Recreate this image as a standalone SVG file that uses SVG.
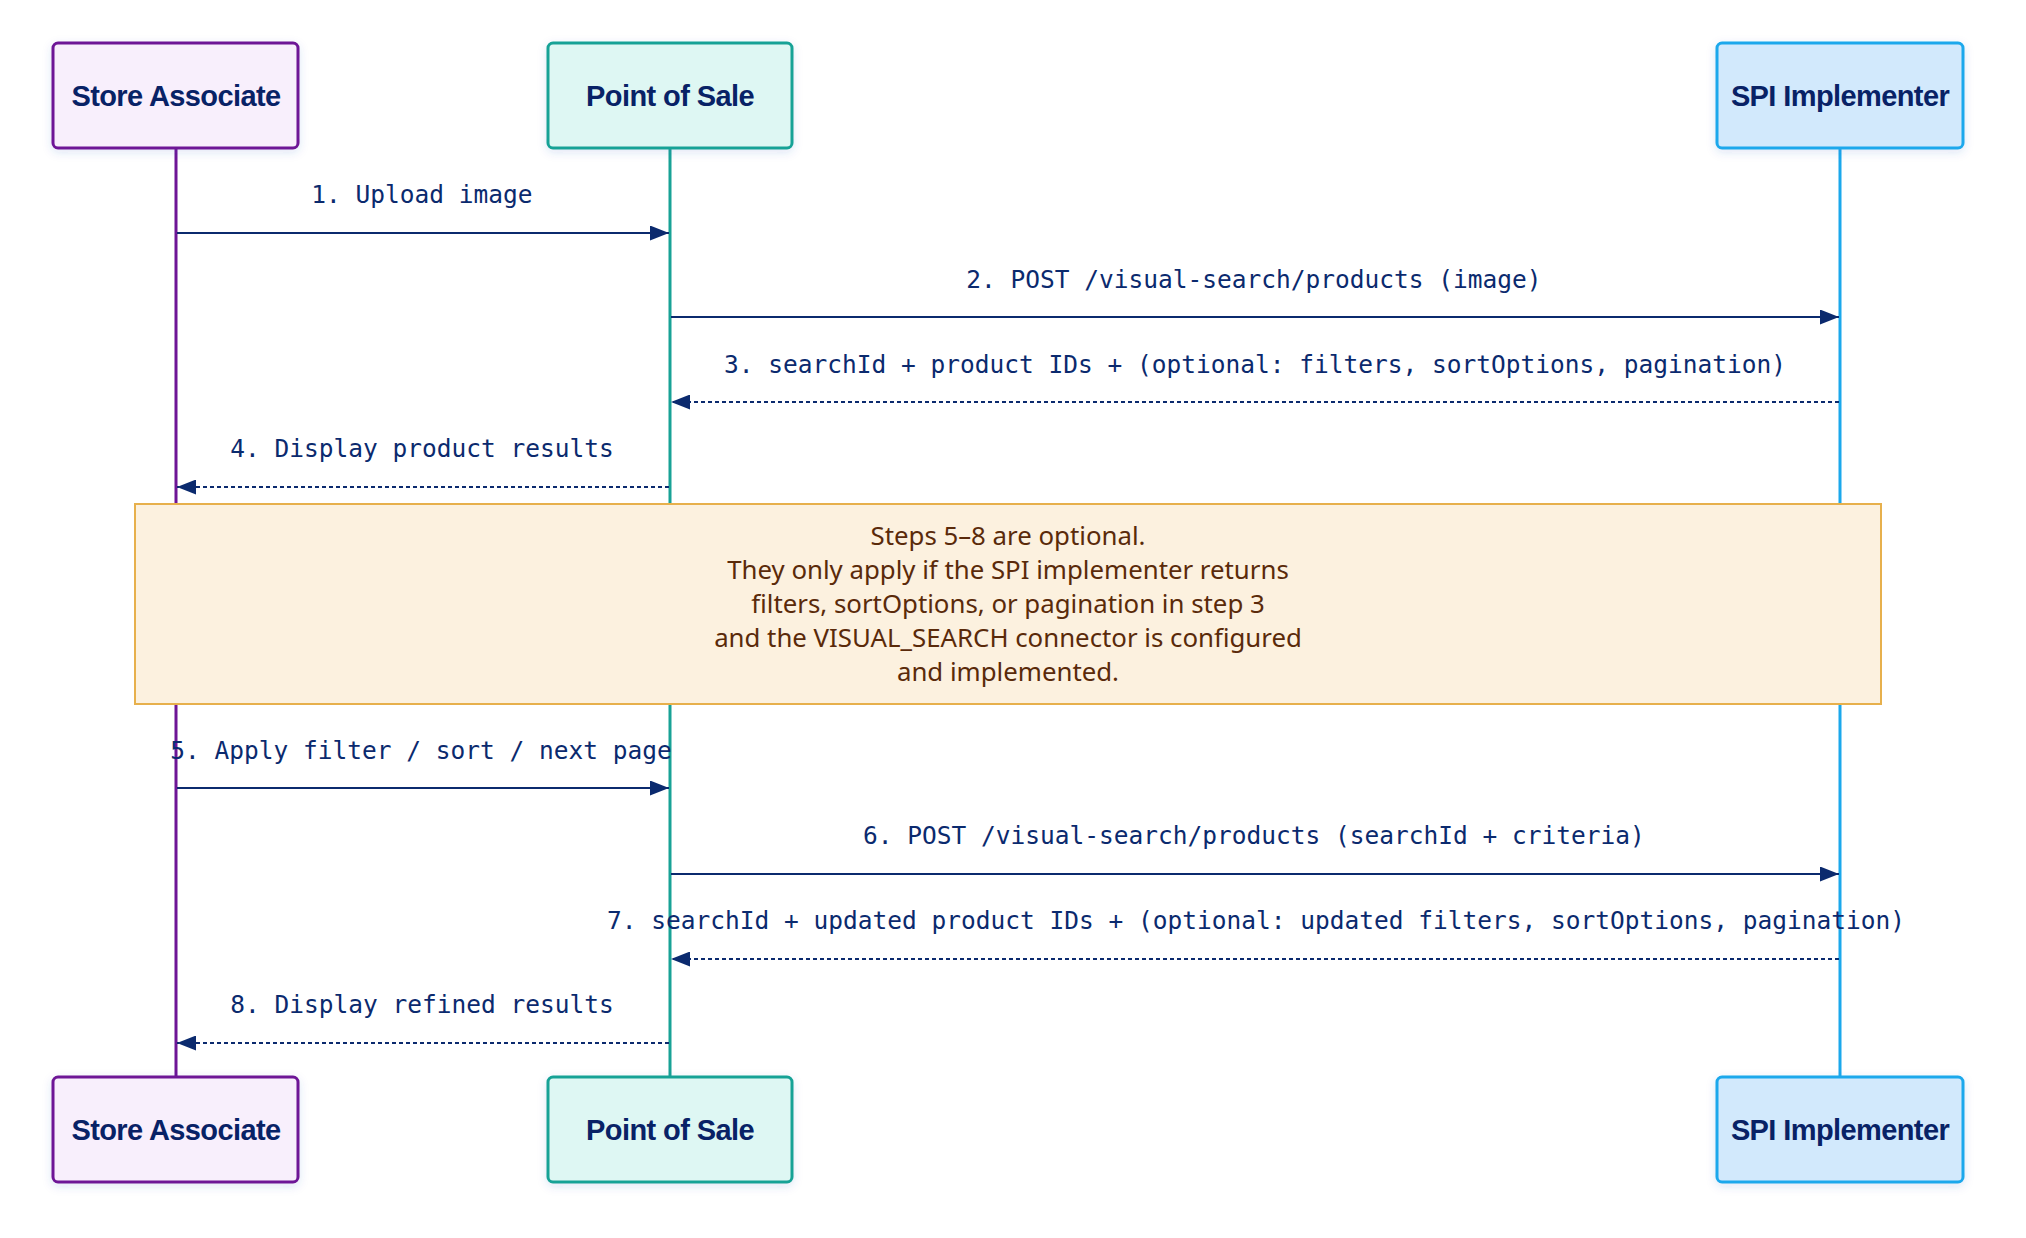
<svg xmlns="http://www.w3.org/2000/svg" width="2026" height="1238" viewBox="0 0 2026 1238">
<defs>
<filter id="sh" x="-20%" y="-20%" width="140%" height="150%">
<feDropShadow dx="0" dy="3" stdDeviation="5" flood-color="#3050c0" flood-opacity="0.14"/>
</filter>
<marker id="ah" markerUnits="userSpaceOnUse" markerWidth="19" markerHeight="15" refX="19" refY="7.5" orient="auto">
<path d="M0,0 L19,7.5 L0,15 z" fill="#0b2a6e"/>
</marker>
</defs>
<style>
.actor{font-family:"Liberation Sans",Arial,sans-serif;font-weight:bold;font-size:29px;letter-spacing:-0.6px;fill:#082266;text-anchor:middle}
.msg{font-family:"DejaVu Sans Mono","Liberation Mono",monospace;font-size:24.5px;fill:#0b2a6e;text-anchor:middle}
.req{stroke:#0b2a6e;stroke-width:2;fill:none}
.res{stroke:#0b2a6e;stroke-width:2;fill:none;stroke-dasharray:4,3}
.life{stroke-width:3;fill:none}
.note{font-family:"Noto Sans","Open Sans",sans-serif;font-size:25.8px;fill:#5a2a0a;text-anchor:middle}
</style>
<rect width="2026" height="1238" fill="#ffffff"/>
<g id="lifelines">
<line class="life" x1="176" y1="148" x2="176" y2="1077" stroke="#6e1596"/>
<line class="life" x1="670" y1="148" x2="670" y2="1077" stroke="#18a296"/>
<line class="life" x1="1840" y1="148" x2="1840" y2="1077" stroke="#1ba8ec"/>
</g>
<g id="actor-store-associate-top">
<rect x="53" y="43" width="245" height="105" rx="5" fill="#f8effc" stroke="#6e1596" stroke-width="3" filter="url(#sh)"/>
<text class="actor" x="176" y="106">Store Associate</text>
</g>
<g id="actor-pos-top">
<rect x="548" y="43" width="244" height="105" rx="5" fill="#def7f3" stroke="#18a296" stroke-width="3" filter="url(#sh)"/>
<text class="actor" x="670" y="106">Point of Sale</text>
</g>
<g id="actor-spi-top">
<rect x="1717" y="43" width="246" height="105" rx="5" fill="#d2e9fc" stroke="#1ba8ec" stroke-width="3" filter="url(#sh)"/>
<text class="actor" x="1840" y="106">SPI Implementer</text>
</g>
<g id="connectors">
<line class="req" x1="177" y1="233" x2="669" y2="233" marker-end="url(#ah)"/>
<text class="msg" x="422" y="203">1. Upload image</text>
<line class="req" x1="671" y1="317" x2="1839" y2="317" marker-end="url(#ah)"/>
<text class="msg" x="1254" y="288">2. POST /visual-search/products (image)</text>
<line class="res" x1="1839" y1="402" x2="671" y2="402" marker-end="url(#ah)"/>
<text class="msg" x="1255" y="373">3. searchId + product IDs + (optional: filters, sortOptions, pagination)</text>
<line class="res" x1="669" y1="487" x2="177" y2="487" marker-end="url(#ah)"/>
<text class="msg" x="422" y="457">4. Display product results</text>
<line class="req" x1="177" y1="788" x2="669" y2="788" marker-end="url(#ah)"/>
<text class="msg" x="421" y="759">5. Apply filter / sort / next page</text>
<line class="req" x1="671" y1="874" x2="1839" y2="874" marker-end="url(#ah)"/>
<text class="msg" x="1254" y="844">6. POST /visual-search/products (searchId + criteria)</text>
<line class="res" x1="1839" y1="959" x2="671" y2="959" marker-end="url(#ah)"/>
<text class="msg" x="1256" y="929">7. searchId + updated product IDs + (optional: updated filters, sortOptions, pagination)</text>
<line class="res" x1="669" y1="1043" x2="177" y2="1043" marker-end="url(#ah)"/>
<text class="msg" x="422" y="1013">8. Display refined results</text>
</g>
<g id="note">
<rect x="135" y="504" width="1746" height="200" fill="#fcf1df" stroke="#e7b04c" stroke-width="2"/>
<text class="note" x="1008" y="545">Steps 5–8 are optional.</text>
<text class="note" x="1008" y="579">They only apply if the SPI implementer returns</text>
<text class="note" x="1008" y="613">filters, sortOptions, or pagination in step 3</text>
<text class="note" x="1008" y="647">and the VISUAL_SEARCH connector is configured</text>
<text class="note" x="1008" y="681">and implemented.</text>
</g>
<g id="actor-store-associate-bottom">
<rect x="53" y="1077" width="245" height="105" rx="5" fill="#f8effc" stroke="#6e1596" stroke-width="3" filter="url(#sh)"/>
<text class="actor" x="176" y="1140">Store Associate</text>
</g>
<g id="actor-pos-bottom">
<rect x="548" y="1077" width="244" height="105" rx="5" fill="#def7f3" stroke="#18a296" stroke-width="3" filter="url(#sh)"/>
<text class="actor" x="670" y="1140">Point of Sale</text>
</g>
<g id="actor-spi-bottom">
<rect x="1717" y="1077" width="246" height="105" rx="5" fill="#d2e9fc" stroke="#1ba8ec" stroke-width="3" filter="url(#sh)"/>
<text class="actor" x="1840" y="1140">SPI Implementer</text>
</g>
</svg>
